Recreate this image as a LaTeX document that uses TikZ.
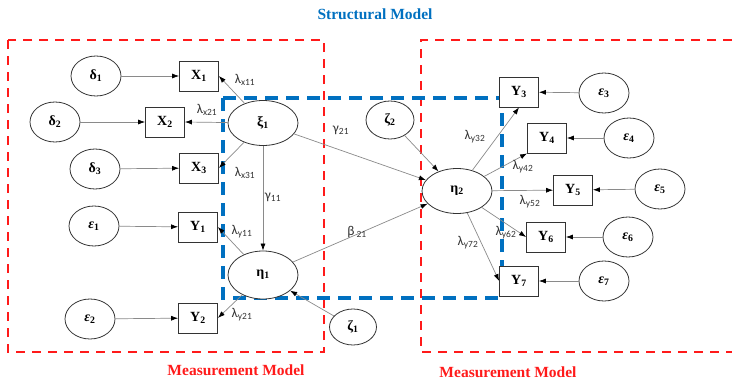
\documentclass[tikz,border=0pt]{standalone}
\usepackage{fontspec}
\setmainfont{Liberation Serif}
\newfontfamily\coeffont{Carlito}
\usepackage{tikz}
\usetikzlibrary{shapes.geometric, arrows.meta}
\definecolor{measureColor}{HTML}{FF1A1A}
\definecolor{structColor}{HTML}{0070C0}
\definecolor{pathColor}{HTML}{8A8A8A}

\begin{document}
\begin{tikzpicture}[x=1pt, y=-1pt,
    errNode/.style={ellipse, draw=black!80, line width=0.8pt, fill=white, minimum width=50pt, minimum height=40pt, inner sep=0pt, font=\fontsize{14}{16}\selectfont\bfseries},
    latNode/.style={errNode, minimum width=70pt, minimum height=45pt},
    obsNode/.style={rectangle, draw=black!80, line width=0.8pt, fill=white, minimum width=39pt, minimum height=30pt, inner sep=0pt, font=\fontsize{14}{16}\selectfont\bfseries},
    pathArrow/.style={draw=pathColor, line width=0.7pt, -{Latex[length=7pt, width=5pt, color=black]}},
    coefLabel/.style={font=\coeffont\fontsize{13.5}{15}\selectfont, text=black!80, inner sep=0pt},
    modelTitle/.style={font=\fontsize{15.5}{18}\selectfont\bfseries}]
    \useasboundingbox (0,0) rectangle (732,380);

    % model boxes
    \draw[measureColor, line width=2.6pt, dash pattern=on 9pt off 7pt] (8,40) rectangle (324,352);
    \draw[measureColor, line width=2.6pt, dash pattern=on 9pt off 7pt] (732,40) -- (421,40) -- (421,352) -- (732,352);
    \draw[structColor, line width=3.2pt, dash pattern=on 13pt off 8pt] (223,98) rectangle (502,298);

    \node[modelTitle, text=structColor] (title) at (375,14) {Structural Model};
    \node[modelTitle, text=measureColor] (mleft) at (236,370) {Measurement Model};
    \node[modelTitle, text=measureColor] (mright) at (508,372) {Measurement Model};

    % exogenous side
    \node[errNode] (d1) at (96,76) {δ\textsubscript{1}};
    \node[errNode] (d2) at (55,122) {δ\textsubscript{2}};
    \node[errNode] (d3) at (95,169) {δ\textsubscript{3}};
    \node[errNode] (e1) at (94,226) {\textit{ε}\textsubscript{1}};
    \node[errNode] (e2) at (90,319) {\textit{ε}\textsubscript{2}};

    \node[obsNode] (X1) at (199,76) {X\textsubscript{1}};
    \node[obsNode] (X2) at (165,122) {X\textsubscript{2}};
    \node[obsNode] (X3) at (199,168) {X\textsubscript{3}};
    \node[obsNode] (Y1) at (198,227) {Y\textsubscript{1}};
    \node[obsNode] (Y2) at (198,318) {Y\textsubscript{2}};

    \node[latNode] (xi1) at (263,123) {ξ\textsubscript{1}};
    \node[latNode, minimum height=48pt] (eta1) at (263,275) {η\textsubscript{1}};
    \node[latNode] (eta2) at (457,191) {η\textsubscript{2}};
    \node[errNode, minimum width=47pt, minimum height=36pt] (z1) at (353,327) {ζ\textsubscript{1}};
    \node[errNode, minimum width=48pt, minimum height=38pt] (z2) at (390,120) {ζ\textsubscript{2}};

    % endogenous side
    \node[obsNode] (Y3) at (519,92) {Y\textsubscript{3}};
    \node[obsNode] (Y4) at (547,138) {Y\textsubscript{4}};
    \node[obsNode] (Y5) at (573,190) {Y\textsubscript{5}};
    \node[obsNode] (Y6) at (546,237) {Y\textsubscript{6}};
    \node[obsNode] (Y7) at (519,281) {Y\textsubscript{7}};

    \node[errNode] (e3) at (604,93) {\textit{ε}\textsubscript{3}};
    \node[errNode] (e4) at (629,138) {\textit{ε}\textsubscript{4}};
    \node[errNode] (e5) at (660,189) {\textit{ε}\textsubscript{5}};
    \node[errNode] (e6) at (628,237) {\textit{ε}\textsubscript{6}};
    \node[errNode] (e7) at (604,281) {\textit{ε}\textsubscript{7}};

    % error terms
    \draw[pathArrow] (d1) -- (X1);
    \draw[pathArrow] (d2) -- (X2);
    \draw[pathArrow] (d3) -- (X3);
    \draw[pathArrow] (e1) -- (Y1);
    \draw[pathArrow] (e2) -- (Y2);
    \foreach \i in {3,...,7}
        \draw[pathArrow] (e\i) -- (Y\i);
    \draw[pathArrow] (z1) -- (eta1);
    \draw[pathArrow] (z2) -- (eta2);

    % loadings and paths
    \draw[pathArrow] (xi1) -- (X1.east);
    \draw[pathArrow] (xi1) -- (X2.east);
    \draw[pathArrow] (xi1) -- (X3.east);
    \draw[pathArrow] (eta1) -- (Y1.east);
    \draw[pathArrow] (eta1) -- (Y2.east);
    \draw[pathArrow] (xi1) -- (eta1);
    \draw[pathArrow] (xi1) -- (eta2);
    \draw[pathArrow] (eta1) -- (eta2);
    \draw[pathArrow] (eta2) -- (Y3.south);
    \draw[pathArrow] (eta2) -- (Y4.south west);
    \draw[pathArrow] (eta2) -- (Y5);
    \draw[pathArrow] (eta2) -- (Y6.west);
    \draw[pathArrow] (eta2) -- (Y7.west);

    \node[coefLabel] (lx11) at (245,80) {λ\textsubscript{x11}};
    \node[coefLabel] (lx21) at (207,110) {λ\textsubscript{x21}};
    \node[coefLabel] (lx31) at (245,173) {λ\textsubscript{x31}};
    \node[coefLabel] (g11) at (273,197) {γ\textsubscript{11}};
    \node[coefLabel] (g21) at (341,130) {γ\textsubscript{21}};
    \node[coefLabel] (ly11) at (242,232) {λ\textsubscript{y11}};
    \node[coefLabel] (ly21) at (242,315) {λ\textsubscript{y21}};
    \node[coefLabel] (b21) at (357,232) {β\,\textsubscript{21}};
    \node[coefLabel] (ly32) at (475,137) {λ\textsubscript{y32}};
    \node[coefLabel] (ly42) at (523,167) {λ\textsubscript{y42}};
    \node[coefLabel] (ly52) at (530,202) {λ\textsubscript{y52}};
    \node[coefLabel] (ly62) at (506,233) {λ\textsubscript{y62}};
    \node[coefLabel] (ly72) at (468,243) {λ\textsubscript{y72}};
\end{tikzpicture}
\end{document}
